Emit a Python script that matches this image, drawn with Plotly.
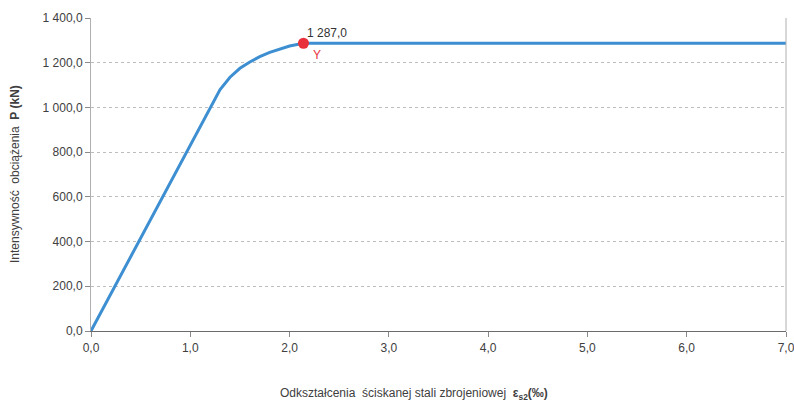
import plotly.graph_objects as go

# Data
strain = [0.0, 1.3, 1.4, 1.5, 1.6, 1.7, 1.8, 1.9, 2.0, 2.14, 7.0]
load = [0.0, 1080, 1135, 1175, 1203, 1227, 1246, 1262, 1275, 1287, 1287]
yield_x = [2.14]
yield_y = [1287.0]
yield_label = "1 287,0"
yield_name = "Y"

x_ticks = [0, 1, 2, 3, 4, 5, 6, 7]
x_ticktext = ["0,0", "1,0", "2,0", "3,0", "4,0", "5,0", "6,0", "7,0"]
y_ticks = [0, 200, 400, 600, 800, 1000, 1200, 1400]
y_ticktext = ["0,0", "200,0", "400,0", "600,0", "800,0", "1 000,0", "1 200,0", "1 400,0"]

FONT = "Liberation Sans, Arial, sans-serif"
TXT = "#404040"

fig = go.Figure()
fig.add_trace(go.Scatter(x=strain, y=load, mode="lines",
                         line=dict(color="#3d8fd1", width=3), hoverinfo="skip",
                         showlegend=False))
fig.add_trace(go.Scatter(x=yield_x, y=yield_y, mode="markers",
                         marker=dict(color="#e8313b", size=11), showlegend=False))

fig.add_annotation(x=yield_x[0], y=yield_y[0], text=yield_label, showarrow=False,
                   xanchor="left", yanchor="bottom", xshift=2, yshift=1,
                   font=dict(family=FONT, size=12, color="#333333"))
fig.add_annotation(x=yield_x[0], y=yield_y[0], text=yield_name, showarrow=False,
                   xanchor="left", yanchor="top", xshift=8, yshift=-3,
                   font=dict(family=FONT, size=12, color="#e8313b"))

fig.update_layout(
    width=794, height=406,
    margin=dict(l=91, r=8, t=18, b=75),
    plot_bgcolor="white", paper_bgcolor="white",
    font=dict(family=FONT, size=12, color=TXT),
    xaxis=dict(range=[0, 7], tickvals=x_ticks, ticktext=x_ticktext,
               showgrid=False, zeroline=False, showline=True,
               linecolor="#6b6b6b", linewidth=1.2, ticks="outside",
               tickcolor="#8a8a8a", ticklen=5, tickfont=dict(size=12, color=TXT),
               ticklabeloverflow="allow", automargin=False),
    yaxis=dict(range=[0, 1400], tickvals=y_ticks, ticktext=y_ticktext,
               showgrid=True, gridcolor="#bdbdbd", griddash="3px,3px", gridwidth=1,
               zeroline=False, showline=True, linecolor="#b0b0b0", linewidth=1,
               ticks="outside", tickcolor="#8a8a8a", ticklen=5,
               tickfont=dict(size=12, color=TXT), automargin=False),
)

# right border line of the plot area
fig.add_shape(type="line", xref="paper", yref="paper", x0=1, x1=1, y0=0, y1=1,
              line=dict(color="#b0b0b0", width=1))

fig.add_annotation(xref="paper", yref="paper", x=0.465, y=-0.2,
                   text="Odkształcenia  ściskanej stali zbrojeniowej  <b>ε<sub>s2</sub>(‰)</b>",
                   showarrow=False, xanchor="center", yanchor="middle",
                   font=dict(family=FONT, size=12, color=TXT))
fig.add_annotation(xref="paper", yref="paper", x=-0.11, y=0.5,
                   text="Intensywność  obciążenia  <b>P (kN)</b>", textangle=-90,
                   showarrow=False, xanchor="center", yanchor="middle",
                   font=dict(family=FONT, size=12, color=TXT))

fig.write_html("out.html")
